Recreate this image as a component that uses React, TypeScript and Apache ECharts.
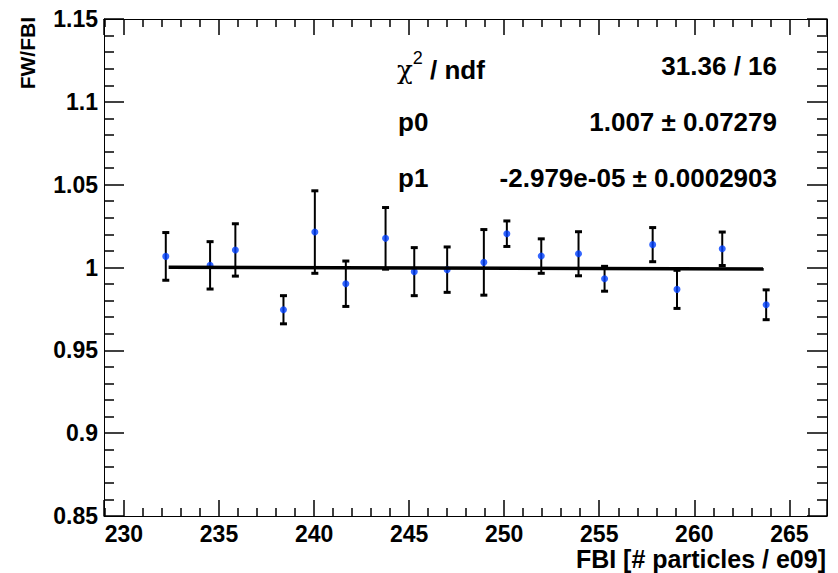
import React, { useEffect, useRef } from "react";
import * as echarts from "echarts";

const fbi = [232.2, 234.53, 235.86, 238.39, 240.04, 241.67, 243.76, 245.27, 247.0, 248.93, 250.14, 251.95, 253.91, 255.28, 257.81, 259.09, 261.47, 263.78];
const ratio = [1.0067, 1.0013, 1.0106, 0.9745, 1.0214, 0.9902, 1.0176, 0.9975, 0.9987, 1.0031, 1.0204, 1.0069, 1.0083, 0.9932, 1.0138, 0.9868, 1.0113, 0.9775];
const ratioErr = [0.0144, 0.0143, 0.0158, 0.0085, 0.0249, 0.0137, 0.0186, 0.0145, 0.0137, 0.0198, 0.0077, 0.0104, 0.0133, 0.0075, 0.0103, 0.0115, 0.0101, 0.009];
const fitX = [232.35, 263.65];
const fitY = [1.0001, 0.9991];
const statLabels = ["χ2 / ndf", "p0", "p1"];
const statValues = ["31.36 / 16", "1.007 ± 0.07279", "-2.979e-05 ± 0.0002903"];

const FONT = "'Liberation Sans', Arial, Helvetica, sans-serif";

export default function App() {
  const ref = useRef<HTMLDivElement>(null);
  useEffect(() => {
    const chart = echarts.init(ref.current!, undefined, { renderer: "svg" });
    const grid = { left: 104, top: 19, right: 11, bottom: 57 };
    const xMin = 228.95, xMax = 266.98;
    const axisLine = { show: true, onZero: false, lineStyle: { color: "#000", width: 1 } };
    const xTick = { show: true, inside: true, length: 16, lineStyle: { color: "#000", width: 1.5 } };
    const xMinor = { show: true, splitNumber: 5, length: 8, lineStyle: { color: "#000", width: 1.5 } };
    const yTick = { show: true, inside: true, length: 20, lineStyle: { color: "#000", width: 1.5 } };
    const yMinor = { show: true, splitNumber: 5, length: 10, lineStyle: { color: "#000", width: 1.5 } };
    const labelStyle = { color: "#000", fontFamily: FONT, fontWeight: "bold" as const, fontSize: 23 };

    const rowY = [65.5, 121.5, 177.5];
    const FS = 26;
    const graphics: any[] = [];
    statLabels.forEach((lab, i) => {
      if (i === 0) {
        graphics.push({
          type: "text", left: 397, top: rowY[i] - 17,
          style: {
            text: "{chi|χ}{sup|2}{b| / ndf}",
            rich: {
              chi: { fontFamily: "'DejaVu Serif', serif", fontSize: 26, fill: "#000", verticalAlign: "bottom", lineHeight: 34 },
              sup: { fontFamily: FONT, fontSize: 18, fill: "#000", verticalAlign: "top", lineHeight: 24 },
              b: { fontFamily: FONT, fontSize: FS, fontWeight: "bold", fill: "#000", verticalAlign: "bottom", lineHeight: 34 },
            },
          },
        });
      } else {
        graphics.push({
          type: "text", x: 398, y: rowY[i],
          style: { text: lab, fontFamily: FONT, fontSize: FS, fontWeight: "bold", fill: "#000", textAlign: "left", textVerticalAlign: "middle" },
        });
      }
      graphics.push({
        type: "text", x: 777, y: rowY[i],
        style: { text: statValues[i], fontFamily: FONT, fontSize: FS, fontWeight: "bold", fill: "#000", textAlign: "right", textVerticalAlign: "middle" },
      });
    });
    graphics.push({
      type: "text", x: 826, y: 559,
      style: { text: "FBI [# particles / e09]", fontFamily: FONT, fontSize: 25, fontWeight: "bold", fill: "#000", textAlign: "right", textVerticalAlign: "middle" },
    });
    graphics.push({
      type: "text", x: 27, y: 17, rotation: Math.PI / 2,
      style: { text: "FW/FBI", fontFamily: FONT, fontSize: 21, fontWeight: "bold", fill: "#000", textAlign: "right", textVerticalAlign: "middle" },
    });

    chart.setOption({
      animation: false,
      backgroundColor: "#fff",
      grid,
      xAxis: [
        {
          type: "value", min: xMin, max: xMax, splitNumber: 7, position: "bottom",
          axisLine, axisTick: xTick, minorTick: xMinor, splitLine: { show: false },
          axisLabel: { ...labelStyle, margin: 6, showMinLabel: false, showMaxLabel: false },
        },
        {
          type: "value", min: xMin, max: xMax, splitNumber: 7, position: "top",
          axisLine, axisTick: xTick, minorTick: xMinor, splitLine: { show: false },
          axisLabel: { show: false },
        },
      ],
      yAxis: [
        {
          type: "value", min: 0.85, max: 1.15, interval: 0.05, position: "left",
          axisLine, axisTick: yTick, minorTick: yMinor, splitLine: { show: false },
          axisLabel: { ...labelStyle, margin: 6 },
        },
        {
          type: "value", min: 0.85, max: 1.15, interval: 0.05, position: "right",
          axisLine, axisTick: yTick, minorTick: yMinor, splitLine: { show: false },
          axisLabel: { show: false },
        },
      ],
      series: [
        {
          type: "custom",
          data: fbi.map((x, i) => [x, ratio[i], ratioErr[i]]),
          renderItem: (_p: any, api: any) => {
            const x = api.value(0), y = api.value(1), e = api.value(2);
            const t = api.coord([x, y + e]);
            const b = api.coord([x, y - e]);
            const st = { stroke: "#000", lineWidth: 2 };
            const cap = { stroke: "#000", lineWidth: 3 };
            return {
              type: "group",
              children: [
                { type: "line", shape: { x1: t[0], y1: t[1], x2: b[0], y2: b[1] }, style: st },
                { type: "line", shape: { x1: t[0] - 3.5, y1: t[1], x2: t[0] + 3.5, y2: t[1] }, style: cap },
                { type: "line", shape: { x1: b[0] - 3.5, y1: b[1], x2: b[0] + 3.5, y2: b[1] }, style: cap },
              ],
            };
          },
          z: 2,
        },
        {
          type: "scatter",
          data: fbi.map((x, i) => [x, ratio[i]]),
          symbol: "circle", symbolSize: 7,
          itemStyle: { color: "#0040ff" },
          z: 3,
        },
        {
          type: "line",
          data: fitX.map((x, i) => [x, fitY[i]]),
          showSymbol: false, symbol: "none",
          lineStyle: { color: "#000", width: 3.5 },
          z: 4,
        },
      ],
      graphic: graphics,
    });
    return () => chart.dispose();
  }, []);
  return <div ref={ref} style={{ position: "fixed", left: 0, top: 0, width: 838, height: 573 }} />;
}
